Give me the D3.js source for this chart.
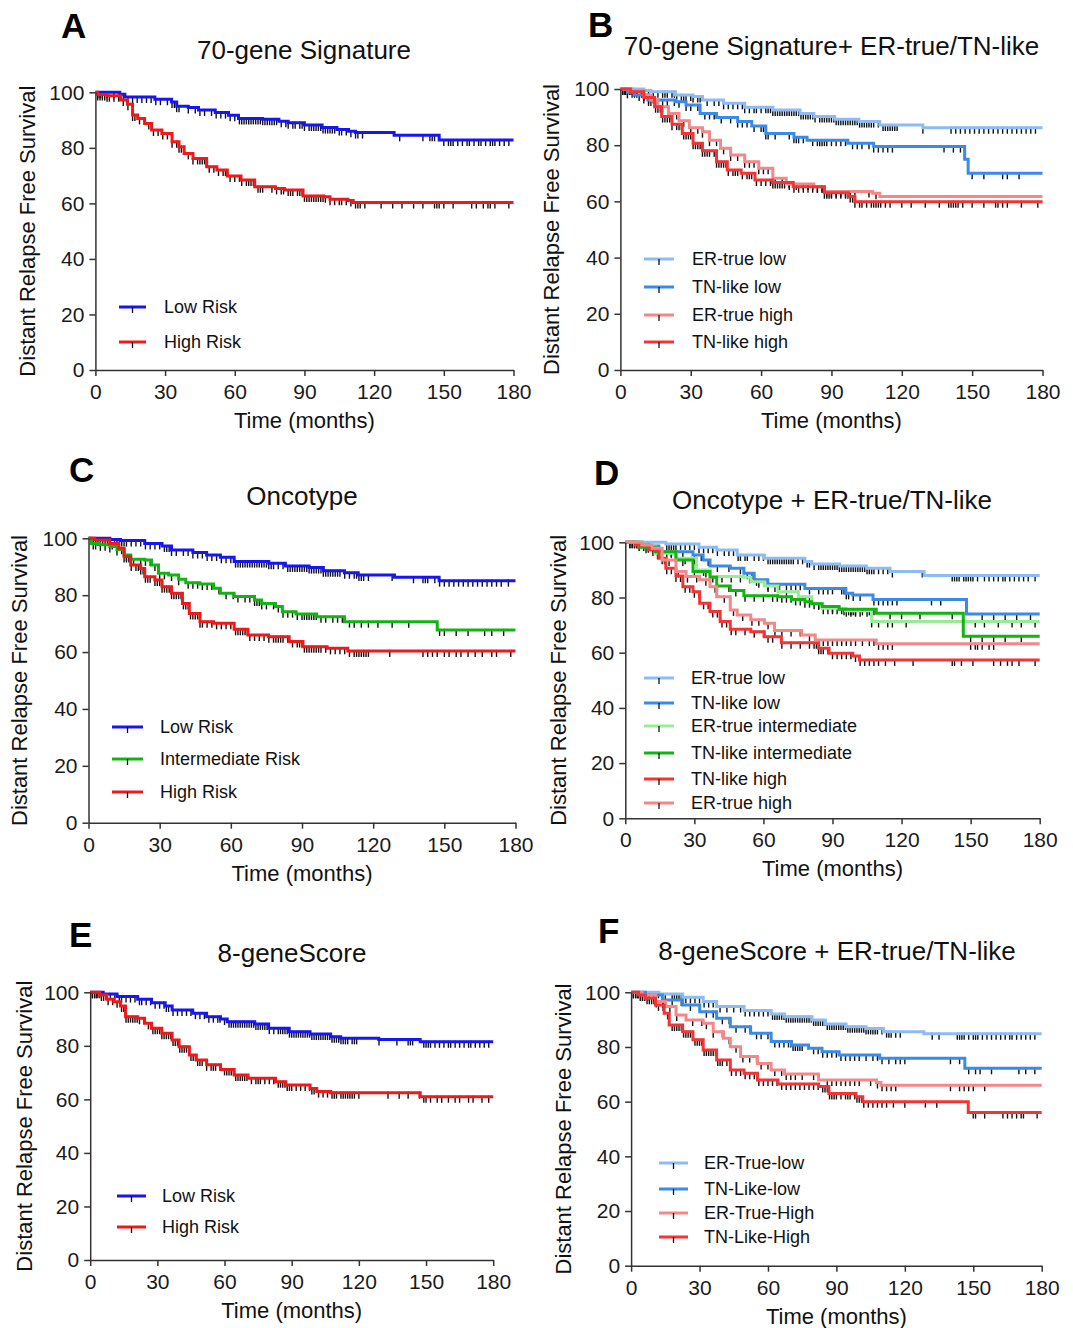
<!doctype html>
<html>
    <head>
        <style>
            body {margin:0; background:#fff;}
            svg {display:block; font-family:"Liberation Sans", Arial, sans-serif;}
            .axis path, .axis line {stroke:#333; stroke-width:1.5px;}
            .axis text {font-size:21px; fill:#1a1a1a;}
        </style>
        <script src="https://d3js.org/d3.v7.min.js"></script>
    </head>
    <body>
        <script>
            // tick labels
            var xTicks = [0,30,60,90,120,150,180];
            var yTicks = [0,20,40,60,80,100];

            // --- A: 70-gene Signature --- [time, survival %] after each drop
            var aLow = [[0,100],[10.5,99.3],[12.7,98.3],[25.6,97.5],[32.8,96.5],[35,95],[40,94.5],[44.4,93.6],[51.6,92.7],[57.3,91.7],[61.6,90.6],[72,90.3],[79,89.6],[83,89],[90,88.2],[97.6,87.3],[104,86.6],[109,86],[112,85.5],[128.6,84.5],[148,82.8]];
            var aHigh = [[0,100],[1,99.2],[5,98.8],[10.8,97.2],[13.8,95.7],[16,91.8],[18.2,90.6],[21.2,88.8],[24.2,86.4],[28.6,85.2],[33,82.2],[36,80.4],[38.2,78],[42,76.2],[47.9,73.2],[52.3,72],[56.8,69.9],[62.7,68.4],[68.6,66],[77.5,65.4],[81.5,64.8],[89.4,62.7],[98.3,62.4],[101,61.5],[108.7,61],[111,60.3]];
            var aLowC = [1,2,3,5,8,11,12,14,16,18,20,22,24,26,28,31,33,34,35,36,40,43,45,47,50,52,54,56,58,60,62,63,64,65,66,67,68,69,70,71,72,73,74,75,76,77,78,80,82,83,85,86,88,89,90,92,93,94,95,96,97,98,99,100,101,102,103,105,106,108,110,112,113,115,131,141,144,145,146,150,152,153,154,156,158,160,161,163,165,166,168,170,171,172,174,176,178];
            var aHighC = [1,2,3,4,5,6,8,10,12,14,16,17,19,21,23,25,27,29,31,33,35,36,37,38,40,42,44,45,46,47,49,51,53,55,56,58,60,62,63,65,66,67,68,70,71,72,76,78,80,81,83,84,85,87,88,89,90,91,92,93,94,95,96,97,98,99,101,103,105,106,108,110,112,113,114,116,123,128,132,137,141,146,147,148,150,154,162,164,167,169,170,172,178];

            // --- B: 70-gene Signature + ER-true/TN-like ---
            var bErLow = [[0,100],[10,99.5],[13,99],[23.5,97.9],[31,97.3],[35,96.1],[44,94.9],[53,93.5],[65,92.5],[76.6,91.3],[82.5,90.2],[91.4,89.2],[101.7,88.4],[110.6,87.2],[129,86.2]];
            var bTnLow = [[0,100],[3,98.8],[5.8,97.9],[11.7,96.1],[23.5,95.5],[28,94.3],[34,91.3],[41,89.9],[50,88.4],[56,86.8],[62,84.2],[74,82.8],[79.6,81.8],[97,80.7],[108,79.5],[146.8,75],[148.3,70]];
            var bErHigh = [[0,100],[5,99.4],[10,97.9],[13,96.1],[16,93.7],[20.5,91.3],[25,88.7],[29.4,86.2],[35,84.8],[38,81.8],[42.7,78.9],[47,76.5],[53,74.1],[59,71.8],[65,68.2],[70.7,66.2],[82.5,65.2],[87,63.5],[107.6,62.9],[110.6,61.7]];
            var bTnHigh = [[0,100],[4.3,99],[10,97],[14.6,93.7],[17.6,90.2],[22,87.5],[26.4,84.2],[31,80.7],[35,78],[41,74.1],[45.6,71.2],[51.5,70],[57.4,67.6],[64.8,66.7],[73.7,65.2],[87,63.1],[97.3,61.7],[100,59.9]];
            var bErLowC = [1,2,3,5,7,9,12,14,16,18,19,20,22,23,24,26,27,28,30,31,33,34,37,40,42,44,46,48,50,52,53,55,57,58,60,62,63,64,65,66,67,68,69,70,71,72,73,74,75,76,77,78,79,80,81,82,83,85,86,87,88,89,90,91,92,93,94,95,96,97,98,99,100,101,102,103,104,105,106,107,108,110,112,113,114,115,116,117,118,129,141,143,145,147,149,151,153,155,157,159,161,163,165,167,169,171,173,175,177];
            var bTnLowC = [3,8,12,15,18,20,23,25,28,30,33,36,38,40,43,47,50,52,54,57,60,61,62,63,66,72,74,75,76,78,82,84,85,86,87,88,90,92,94,96,99,101,103,106,108,110,112,114,116,138,142,145,150,155,163,165,170];
            var bErHighC = [2,4,6,10,13,15,18,21,24,27,30,33,35,38,41,44,47,50,53,55,57,59,61,63,66,69,72,75,78,80,82,84,86,88,90,92,94,96,98,100,106,109];
            var bTnHighC = [1,2,3,4,5,6,7,9,10,12,14,15,16,17,18,19,20,21,22,24,25,26,27,28,29,30,31,32,33,34,35,36,37,38,40,41,42,43,44,45,46,48,49,50,52,54,55,56,58,60,62,64,65,66,67,68,69,70,72,74,76,78,80,82,84,86,87,88,89,90,92,94,96,97,98,99,100,102,103,105,107,108,109,110,111,113,115,120,124,130,136,140,141,142,143,144,146,150,155,160,161,163,165,171,178];

            // --- C: Oncotype ---
            var cLow = [[0,100],[9,99.6],[13.5,99.2],[23.7,98.2],[31,97.3],[35,95.9],[44,95],[49.8,94.1],[55.6,93.3],[61.4,91.8],[76,91.2],[83,90.3],[93,89.7],[99,88.6],[107.9,87.9],[113.7,87.1],[129,86.3],[147.8,85.1]];
            var cInt = [[0,100],[1.2,98.2],[4.8,97.7],[9,97.1],[12,96.1],[15,94.1],[17.8,92.6],[23.7,92.4],[26.6,90.6],[29.5,87.7],[33.8,87.1],[38,85.6],[41,84.4],[47,83.9],[52.7,82.4],[55.6,80.7],[61.4,79.5],[70,78.3],[73,77.1],[78.8,76],[81.7,74.2],[87.5,73.4],[96.2,72.4],[107.9,70.7],[147,67.8]];
            var cHigh = [[0,100],[2.6,99.4],[9,98.2],[12.8,96.5],[15,93.6],[17.8,90.6],[22,89.4],[23.7,86.5],[28,85.3],[31,83],[35,80.7],[39.6,77.1],[42.5,73.6],[47,70.7],[52.7,70.1],[61.4,68],[67.2,66],[75.9,65.4],[84.6,63.7],[90.4,61.9],[100.6,61.3],[109.3,60.4]];
            var cLowC = [1,2,3,5,7,9,11,12,13,14,15,16,18,20,22,24,26,28,30,32,33,34,35,37,40,42,44,46,48,50,52,54,56,58,60,62,63,64,65,66,67,68,69,70,71,72,73,74,75,76,77,78,80,82,84,85,86,87,88,89,90,91,92,93,94,95,96,97,98,99,100,101,102,103,104,105,106,108,110,112,113,114,115,116,118,128,137,141,142,143,146,148,150,152,154,156,158,160,162,164,166,168,170,172,174,177];
            var cIntC = [1,2,3,5,7,9,12,16,19,22,24,26,28,30,32,35,38,42,44,46,48,50,52,55,58,61,63,66,68,70,71,72,73,75,78,80,82,84,86,88,90,91,92,93,94,95,96,98,100,103,105,107,110,112,115,118,122,128,135,148,150,155,160,167,170,175];
            var cHighC = [1,2,3,4,6,8,10,12,14,15,16,17,18,20,21,22,23,24,25,26,28,29,30,31,32,33,34,35,36,37,38,39,40,41,42,43,44,45,46,47,48,50,52,54,56,58,60,62,63,64,65,66,67,68,70,72,74,76,78,79,80,81,82,84,86,88,89,90,91,92,93,94,95,96,97,98,100,102,104,106,108,110,112,113,114,115,116,117,118,127,141,143,145,147,150,152,155,157,160,163,166,170,172,178];

            // --- D: Oncotype + ER-true/TN-like ---
            var dErLow = [[0,100],[17.6,99.4],[32,98.2],[39.7,97.2],[48.6,95.4],[60.4,94.2],[78,93],[81,92.1],[93,91.4],[104.7,90.6],[115,89.4],[129.8,88]];
            var dTnLow = [[0,100],[7.2,98.7],[14.6,96.6],[29.4,95.4],[33.8,93.6],[36.8,91.4],[45.6,90.6],[51.5,88.8],[56,86.4],[61.9,84.8],[78,83.3],[95.8,81.5],[98.8,80.9],[107.6,79.3],[148.2,74]];
            var dErInt = [[0,100],[7.2,98.4],[13,96],[22,94.2],[30.9,90],[36.8,87.6],[51.5,87.3],[54.5,85.7],[60.4,84.2],[66.3,82.1],[75.2,80.3],[81,77.9],[85.5,76.1],[95.8,75.2],[107,71.3]];
            var dTnInt = [[0,100],[5.8,98.2],[13,96.6],[22,93.6],[29.4,89.4],[36.8,87.3],[39.7,84.2],[45.6,82.5],[51.5,80.6],[66.3,80.3],[72.2,79.3],[78,78.5],[81,77.7],[85.5,76.7],[92.9,75.7],[109,74.3],[146.8,66]];
            var dTnHigh = [[0,100],[4.3,99],[10.2,97.2],[14.6,94.2],[17.6,90.6],[22,87.8],[25,83.9],[29.4,82.1],[32.3,77.9],[36.8,74.9],[41.2,71.3],[45.6,68.5],[54.5,67.6],[60.4,65.8],[67.8,63.6],[84,61.6],[88.5,59.8],[98.8,58.8],[101.7,57.4]];
            var dErHigh = [[0,100],[7.2,99],[11.7,97.8],[16,93.6],[22,89.4],[26.4,87.6],[32.3,86.4],[36.8,83.9],[39.7,80.3],[45.6,75.5],[48.6,73.7],[54.5,71.9],[60.4,70.7],[64.8,68],[76.6,66.4],[82.5,64.6],[109,63.2]];
            var dErLowC = [2,5,10,18,19,20,21,22,24,26,28,30,32,34,36,38,40,43,45,47,49,50,52,53,56,58,60,62,63,64,65,66,67,68,69,70,71,72,73,75,77,79,80,82,84,85,86,87,88,89,90,91,92,93,94,95,96,97,98,99,100,101,102,103,104,105,106,107,108,110,112,114,116,129,142,143,144,145,147,148,149,150,151,153,156,158,160,162,164,165,167,169,171,173,175,178];
            var dTnLowC = [4,12,16,20,25,30,33,36,40,45,50,53,55,57,62,67,70,72,74,76,80,84,86,88,90,94,95,96,97,99,102,108,110,112,114,116,118,133,137,155,160,165,170,176];
            var dErIntC = [3,6,10,14,18,22,26,30,34,38,42,46,50,54,58,62,65,70,75,78,80,82,84,86,88,90,92,94,96,98,100,102,105,107,110,114,116,122,152,156,162,168,172,178];
            var dTnIntC = [5,9,15,20,25,30,35,40,45,48,52,56,60,64,66,68,70,72,74,76,78,80,84,90,95,97,98,99,100,103,106,108,115,120,128,142,150,155,160,165,172];
            var dTnHighC = [2,4,6,8,10,12,14,16,17,18,20,22,24,26,28,30,32,34,36,38,40,42,44,46,48,52,56,60,62,64,68,72,76,80,82,83,84,85,86,88,90,92,94,96,98,100,102,104,106,108,110,113,117,125,142,143,146,151,160,163,166,168,171,178];
            var dErHighC = [3,7,11,15,19,23,27,31,35,39,43,47,51,55,58,62,65,68,72,76,80,84,86,88,90,92,94,96,98,100,103,106,108,110,112,114,116,150,152,153,155,158,160];

            // --- E: 8-geneScore ---
            var eLow = [[0,100],[5.8,99.4],[12,98.4],[21.2,97.4],[27.4,96.1],[33.5,94.9],[36.6,93.4],[45.8,92.2],[52,90.9],[58.2,90],[61.2,89],[73.5,88.2],[79.7,86.6],[88.9,85.3],[98.2,84.4],[107.4,83.4],[111.9,82.8],[128.9,82.4],[147.4,81.5]];
            var eHigh = [[0,100],[4.3,99],[7.4,97.4],[10.5,96.5],[13.5,94.9],[15.8,90.9],[21.2,90.3],[24.3,88.4],[27.4,86.6],[32,84.7],[36.6,82.2],[39.7,79.7],[44.3,76.6],[47.4,74.7],[52,72.9],[58.2,71.2],[64.3,69.1],[70.5,67.9],[82.8,66.6],[87.4,65.4],[98.2,64.1],[101.2,62.9],[107.4,62.5],[147.4,61]];
            var eLowC = [1,2,3,5,7,9,11,13,14,16,18,20,22,23,25,27,29,31,33,34,35,37,39,41,43,45,47,49,51,53,55,57,58,60,62,63,64,65,66,67,68,69,70,71,72,73,74,75,76,77,78,79,80,82,84,85,86,87,88,89,90,91,92,93,94,95,96,97,98,99,100,101,102,103,104,105,106,107,108,109,110,111,112,113,114,115,117,118,119,129,137,142,143,144,149,150,151,152,154,156,158,160,161,163,165,167,169,170,172,174,176,178];
            var eHighC = [1,2,3,4,5,6,8,10,12,14,15,16,17,18,19,20,21,22,24,26,27,28,29,30,31,32,33,34,35,36,37,38,39,40,41,42,43,44,45,46,47,48,49,50,52,54,55,56,58,60,61,62,63,64,65,66,67,68,69,70,72,74,75,76,78,80,82,84,85,86,87,88,89,90,92,94,96,98,99,100,102,104,106,108,109,110,112,113,114,115,116,117,118,120,133,138,142,147,149,150,152,155,157,160,163,165,169,171,175,178];

            // --- F: 8-geneScore + ER-true/TN-like ---
            var fErLow = [[0,100],[12.2,99.4],[22.6,98.2],[31.6,96.6],[37.5,94.8],[49.5,93.3],[61.4,92.1],[67.3,91.1],[79.3,89.9],[85.2,88.4],[94.2,87.4],[103,86.8],[110.6,85.6],[128.4,84.8]];
            var fTnLow = [[0,100],[6.3,99],[13.7,97.2],[22.6,95.4],[30.1,92.9],[37.5,90.5],[43.5,87.4],[52.4,85],[61.4,82],[70.3,80.7],[77.8,79.5],[83.7,78.3],[91.2,77.1],[109,75.9],[146.3,72.2]];
            var fErHigh = [[0,100],[4.8,99],[10.7,96.6],[15.2,94.8],[19.7,91.7],[24.1,89.9],[31.6,88.7],[36,85.6],[40.5,83.2],[43.5,80.1],[48,76.5],[55.4,74],[61.4,71.6],[67.3,70.1],[82.2,67.9],[107.6,67],[109.5,66]];
            var fTnHigh = [[0,100],[3.3,99],[6.3,97.8],[10.7,95.4],[14.5,92.3],[16.7,88],[22.6,85.6],[27.1,82.6],[31.6,78.9],[37.5,75.2],[43.5,71.6],[49.5,70.4],[55.4,67.9],[64.4,66.5],[82.2,65.5],[86.7,63],[98.6,61.8],[101.6,60],[147.8,56]];
            var fErLowC = [1,3,5,8,12,15,18,19,20,21,22,24,26,28,30,32,34,36,39,42,45,48,50,52,54,56,58,60,62,63,64,65,66,67,68,69,70,71,72,73,74,75,76,77,78,79,80,81,82,83,84,85,86,87,88,89,90,91,92,93,94,95,96,97,98,99,100,101,102,103,104,105,106,107,108,110,112,113,114,116,118,132,135,143,144,145,146,148,150,151,152,154,156,158,160,162,164,166,167,169,171,173,175,177];
            var fTnLowC = [3,6,10,14,18,22,26,30,33,36,40,43,46,50,52,55,57,60,63,65,67,69,70,71,72,73,74,75,80,82,84,86,88,90,92,94,96,98,100,103,106,108,110,113,116,118,120,140,144,148,151,153,158,170,173,177];
            var fErHighC = [2,5,8,11,14,17,20,24,27,31,33,36,40,43,46,49,52,55,57,60,63,66,68,70,72,75,80,86,88,90,92,94,96,98,100,105,108,110,112,114,116,140,144,146,148,150,155];
            var fTnHighC = [1,2,3,4,5,6,7,8,9,10,12,14,16,18,19,20,21,22,23,24,25,26,27,28,29,30,31,32,33,34,35,36,37,38,39,40,42,44,46,48,50,52,54,56,58,60,62,64,66,68,70,72,74,76,78,80,82,84,85,86,87,88,89,90,92,94,95,96,98,99,100,101,102,104,106,108,110,112,115,120,129,134,150,151,155,163,165,167,169,171,172,178];

            //colours
            var cBlue="#1616f2", cRed="#f01818", cGreen="#12b412";
            var cLtBlue="#8cbcf2", cMidBlue="#3a8be8", cLtRed="#f48888", cRed2="#f23434", cLtGreen="#98ec98";

            //layout of the six panels
            var panels = [
                {letter:"A", lx:61, ly:38, title:"70-gene Signature", tx:304, ty:59, x0:95.4, x1:513.5, yTop:92.3, yBot:370, ytX:35,
                 leg:{x0:119, x1:146, tx:164, rows:[307,342]},
                 series:[{s:aLow,c:aLowC,col:cBlue,lab:"Low Risk"},{s:aHigh,c:aHighC,col:cRed,lab:"High Risk"}]},
                {letter:"B", lx:588, ly:37, title:"70-gene Signature+ ER-true/TN-like", tx:831.5, ty:55, x0:620.4, x1:1042.5, yTop:89, yBot:370, ytX:559,
                 leg:{x0:644, x1:674, tx:692, rows:[259,287,315,342]},
                 series:[{s:bErLow,c:bErLowC,col:cLtBlue,lab:"ER-true low"},{s:bTnLow,c:bTnLowC,col:cMidBlue,lab:"TN-like low"},
                         {s:bErHigh,c:bErHighC,col:cLtRed,lab:"ER-true high"},{s:bTnHigh,c:bTnHighC,col:cRed2,lab:"TN-like high"}]},
                {letter:"C", lx:69, ly:482, title:"Oncotype", tx:302, ty:505, x0:88.5, x1:515.5, yTop:538.3, yBot:822.7, ytX:27,
                 leg:{x0:112, x1:143, tx:160, rows:[727,759,792]},
                 series:[{s:cLow,c:cLowC,col:cBlue,lab:"Low Risk"},{s:cInt,c:cIntC,col:cGreen,lab:"Intermediate Risk"},{s:cHigh,c:cHighC,col:cRed,lab:"High Risk"}]},
                {letter:"D", lx:594, ly:485, title:"Oncotype + ER-true/TN-like", tx:832, ty:509, x0:625.3, x1:1039.7, yTop:542.3, yBot:818.3, ytX:566,
                 leg:{x0:644, x1:674, tx:691, rows:[678,703,726,753,779,803]},
                 series:[{s:dErLow,c:dErLowC,col:cLtBlue,lab:"ER-true low"},{s:dTnLow,c:dTnLowC,col:cMidBlue,lab:"TN-like low"},
                         {s:dErInt,c:dErIntC,col:cLtGreen,lab:"ER-true intermediate"},{s:dTnInt,c:dTnIntC,col:cGreen,lab:"TN-like intermediate"},
                         {s:dTnHigh,c:dTnHighC,col:cRed2,lab:"TN-like high"},{s:dErHigh,c:dErHighC,col:cLtRed,lab:"ER-true high"}]},
                {letter:"E", lx:69, ly:947, title:"8-geneScore", tx:292, ty:962, x0:90.2, x1:493.2, yTop:992.3, yBot:1260, ytX:32,
                 leg:{x0:117, x1:146, tx:162, rows:[1196,1227]},
                 series:[{s:eLow,c:eLowC,col:cBlue,lab:"Low Risk"},{s:eHigh,c:eHighC,col:cRed,lab:"High Risk"}]},
                {letter:"F", lx:598, ly:943, title:"8-geneScore + ER-true/TN-like", tx:837, ty:960, x0:631.1, x1:1041.7, yTop:992.3, yBot:1265.7, ytX:571,
                 leg:{x0:659, x1:688, tx:704, rows:[1163,1189,1213,1237]},
                 series:[{s:fErLow,c:fErLowC,col:cLtBlue,lab:"ER-True-low"},{s:fTnLow,c:fTnLowC,col:cMidBlue,lab:"TN-Like-low"},
                         {s:fErHigh,c:fErHighC,col:cLtRed,lab:"ER-True-High"},{s:fTnHigh,c:fTnHighC,col:cRed2,lab:"TN-Like-High"}]}
            ];

            //survival value of a step curve at time t
            function survAt(steps, t) {
                var v = steps[0][1];
                for (var i=0;i<steps.length;i++) {
                    if (steps[i][0] <= t) v = steps[i][1]; else break;
                }
                return v;
            }

            var svg = d3.select("body").append("svg").attr("width",1073).attr("height",1328);
            svg.append("rect").attr("width",1073).attr("height",1328).attr("fill","#fff");

            panels.forEach(function(p){
                var x = d3.scaleLinear().domain([0,180]).range([p.x0,p.x1]);
                var y = d3.scaleLinear().domain([0,100]).range([p.yBot,p.yTop]);
                var g = svg.append("g");

                //panel letter + title
                g.append("text").attr("x",p.lx).attr("y",p.ly).text(p.letter)
                    .attr("font-size","35px").attr("font-weight","bold").attr("fill","#000");
                g.append("text").attr("x",p.tx).attr("y",p.ty).text(p.title)
                    .attr("text-anchor","middle").attr("font-size","26px").attr("fill","#111");

                //censor marks first, curves on top
                p.series.forEach(function(se){
                    g.append("g").selectAll("line").data(se.c).enter().append("line")
                        .attr("x1",function(d){return x(d)}).attr("x2",function(d){return x(d)})
                        .attr("y1",function(d){return y(survAt(se.s,d))-1})
                        .attr("y2",function(d){return y(survAt(se.s,d))+6})
                        .attr("stroke","#111").attr("stroke-width",1.4);
                });
                var line = d3.line().x(function(d){return x(d[0])}).y(function(d){return y(d[1])}).curve(d3.curveStepAfter);
                p.series.forEach(function(se){
                    var pts = se.s.concat([[180, se.s[se.s.length-1][1]]]);
                    g.append("path").datum(pts).attr("d",line)
                        .attr("fill","none").attr("stroke",se.col).attr("stroke-width",3);
                });

                //axes
                g.append("g").attr("class","axis").attr("transform","translate(0,"+p.yBot+")")
                    .call(d3.axisBottom(x).tickValues(xTicks).tickSize(6).tickSizeOuter(0).tickPadding(8));
                g.append("g").attr("class","axis").attr("transform","translate("+p.x0+",0)")
                    .call(d3.axisLeft(y).tickValues(yTicks).tickSize(6).tickSizeOuter(0).tickPadding(5));

                //axis titles
                g.append("text").attr("x",(p.x0+p.x1)/2).attr("y",p.yBot+58).text("Time (months)")
                    .attr("text-anchor","middle").attr("font-size","22px").attr("fill","#111");
                g.append("text").attr("transform","translate("+p.ytX+","+((p.yTop+p.yBot)/2)+") rotate(-90)")
                    .text("Distant Relapse Free Survival")
                    .attr("text-anchor","middle").attr("font-size","22px").attr("fill","#111");

                //legend
                p.series.forEach(function(se,i){
                    var ly = p.leg.rows[i];
                    g.append("line").attr("x1",p.leg.x0).attr("x2",p.leg.x1).attr("y1",ly).attr("y2",ly)
                        .attr("stroke",se.col).attr("stroke-width",3);
                    var mx = (p.leg.x0+p.leg.x1)/2;
                    g.append("line").attr("x1",mx).attr("x2",mx).attr("y1",ly).attr("y2",ly+6)
                        .attr("stroke","#111").attr("stroke-width",1.3);
                    g.append("text").attr("x",p.leg.tx).attr("y",ly).attr("dy","0.35em").text(se.lab)
                        .attr("font-size","18px").attr("fill","#111");
                });
            });
        </script>
    </body>
</html>
